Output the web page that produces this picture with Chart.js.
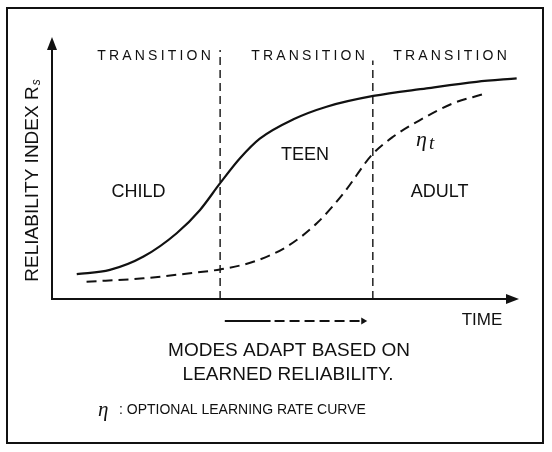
<!DOCTYPE html>
<html lang="en">
<head>
  <meta charset="UTF-8">
  <title>Reliability Index Modes</title>
  <script src="https://cdn.jsdelivr.net/npm/chart.js"></script>
  <style>
    body {
      margin: 0;
      background: #fff;
    }
    #canvas {
      display: block;
    }
  </style>
</head>
<body>
  <canvas id="canvas" width="552" height="452"></canvas>

  <script>
    // time runs 0..100 along x, reliability 0..100 up y
    const reliabilityTime = [5.3, 12.4, 19.6, 26.7, 31.7, 36.0, 40.3, 44.5, 51.7, 58.8, 68.8, 80.2, 90.9, 99.5];
    const reliabilityIndex = [9.5, 11.1, 16.2, 25.1, 34.0, 44.2, 53.8, 61.2, 68.6, 73.4, 77.5, 80.4, 82.9, 84.2];

    const learningTime = [7.4, 19.6, 30.3, 36.0, 43.1, 50.3, 56.7, 62.4, 68.5, 73.1, 78.8, 85.9, 92.4];
    const learningRate = [6.6, 7.9, 10.0, 11.3, 14.2, 20.0, 28.9, 40.3, 55.0, 62.0, 68.3, 74.7, 78.2];

    const transitionAt = [36.0, 68.7];
    const transitionTop = [95, 91];

    const stageNames = ["CHILD", "TEEN", "ADULT"];
    const transitionLabel = "TRANSITION";

    const pts = (xs, ys) => xs.map((x, i) => ({ x: x, y: ys[i] }));

    const ink = "#111";

    const datasets = [
      {
        label: "Reliability index",
        data: pts(reliabilityTime, reliabilityIndex),
        borderColor: ink,
        borderWidth: 2.2,
        pointRadius: 0,
        cubicInterpolationMode: "monotone"
      },
      {
        label: "Learning rate",
        data: pts(learningTime, learningRate),
        borderColor: ink,
        borderWidth: 2,
        borderDash: [10, 6],
        pointRadius: 0,
        cubicInterpolationMode: "monotone"
      }
    ];
    transitionAt.forEach((t, i) => {
      datasets.push({
        label: "Transition " + (i + 1),
        data: [{ x: t, y: 0 }, { x: t, y: transitionTop[i] }],
        borderColor: ink,
        borderWidth: 1.4,
        borderDash: [8, 5],
        pointRadius: 0
      });
    });

    function spacedText(ctx, text, cx, cy, gap) {
      let total = 0;
      const widths = [...text].map(c => ctx.measureText(c).width);
      widths.forEach(w => total += w);
      total += gap * (widths.length - 1);
      let x = cx - total / 2;
      ctx.textAlign = "left";
      [...text].forEach((c, i) => {
        ctx.fillText(c, x, cy);
        x += widths[i] + gap;
      });
    }

    const decor = {
      id: "decor",
      beforeDraw(chart) {
        const ctx = chart.ctx;
        ctx.save();
        ctx.fillStyle = "#fff";
        ctx.fillRect(0, 0, chart.width, chart.height);
        ctx.restore();
      },
      afterDraw(chart) {
        const ctx = chart.ctx;
        const a = chart.chartArea;
        const xs = chart.scales.x;
        const ys = chart.scales.y;
        ctx.save();
        ctx.strokeStyle = ink;
        ctx.fillStyle = ink;

        // outer frame
        ctx.lineWidth = 2;
        ctx.strokeRect(7, 8, 536, 435);

        // axes with arrows
        ctx.lineWidth = 2;
        ctx.beginPath();
        ctx.moveTo(a.left, a.top + 10);
        ctx.lineTo(a.left, a.bottom);
        ctx.lineTo(a.right - 10, a.bottom);
        ctx.stroke();
        ctx.beginPath();
        ctx.moveTo(a.left, a.top);
        ctx.lineTo(a.left - 5, a.top + 13);
        ctx.lineTo(a.left + 5, a.top + 13);
        ctx.closePath();
        ctx.fill();
        ctx.beginPath();
        ctx.moveTo(a.right, a.bottom);
        ctx.lineTo(a.right - 13, a.bottom - 5);
        ctx.lineTo(a.right - 13, a.bottom + 5);
        ctx.closePath();
        ctx.fill();

        ctx.textBaseline = "middle";

        // transition headers
        ctx.font = "14px 'Liberation Sans', Arial, sans-serif";
        [154, 308, 450].forEach(cx => spacedText(ctx, transitionLabel, cx, 56, 3.2));

        // stage names
        ctx.font = "18px 'Liberation Sans', Arial, sans-serif";
        ctx.textAlign = "center";
        ctx.fillText(stageNames[0], xs.getPixelForValue(18.5), ys.getPixelForValue(41));
        ctx.fillText(stageNames[1], xs.getPixelForValue(54.2), ys.getPixelForValue(55));
        ctx.fillText(stageNames[2], xs.getPixelForValue(83), ys.getPixelForValue(41));

        // eta_t label
        ctx.textAlign = "left";
        ctx.font = "italic 22px 'Liberation Serif', 'DejaVu Serif', serif";
        ctx.fillText("η", 416, 140);
        ctx.font = "italic 19px 'Liberation Serif', 'DejaVu Serif', serif";
        ctx.fillText("t", 429, 144);

        // y axis title
        ctx.save();
        ctx.translate(33, 181);
        ctx.rotate(-Math.PI / 2);
        ctx.font = "19px 'Liberation Sans', Arial, sans-serif";
        const main = "RELIABILITY INDEX R";
        const mw = ctx.measureText(main).width;
        ctx.font = "italic 12px 'Liberation Sans', Arial, sans-serif";
        const sw = ctx.measureText("s").width;
        const start = -(mw + sw) / 2;
        ctx.font = "19px 'Liberation Sans', Arial, sans-serif";
        ctx.fillText(main, start, 0);
        ctx.font = "italic 12px 'Liberation Sans', Arial, sans-serif";
        ctx.fillText("s", start + mw + 1, 4);
        ctx.restore();

        // x axis title
        ctx.font = "17px 'Liberation Sans', Arial, sans-serif";
        ctx.textAlign = "center";
        ctx.fillText("TIME", 482, 320);

        // adapt arrow under axis
        const ay = 321;
        const ax0 = xs.getPixelForValue(37.0);
        const ax1 = xs.getPixelForValue(46.8);
        const ax2 = xs.getPixelForValue(67.5);
        ctx.lineWidth = 2;
        ctx.beginPath();
        ctx.moveTo(ax0, ay);
        ctx.lineTo(ax1, ay);
        ctx.stroke();
        ctx.setLineDash([10, 5]);
        ctx.beginPath();
        ctx.moveTo(ax1 + 4, ay);
        ctx.lineTo(ax2 - 5, ay);
        ctx.stroke();
        ctx.setLineDash([]);
        ctx.beginPath();
        ctx.moveTo(ax2, ay);
        ctx.lineTo(ax2 - 6, ay - 3.5);
        ctx.lineTo(ax2 - 6, ay + 3.5);
        ctx.closePath();
        ctx.fill();

        // caption
        ctx.font = "19px 'Liberation Sans', Arial, sans-serif";
        ctx.fillText("MODES ADAPT BASED ON", 289, 351);
        ctx.fillText("LEARNED RELIABILITY.", 288, 375);

        // footnote
        ctx.textAlign = "left";
        ctx.font = "italic 21px 'Liberation Serif', 'DejaVu Serif', serif";
        ctx.fillText("η", 98, 410);
        ctx.font = "14px 'Liberation Sans', Arial, sans-serif";
        ctx.fillText(": OPTIONAL LEARNING RATE CURVE", 119, 410);

        ctx.restore();
      }
    };

    window.onload = function () {
      const ctx = document.getElementById("canvas").getContext("2d");
      new Chart(ctx, {
        type: "line",
        data: { datasets: datasets },
        options: {
          responsive: false,
          animation: false,
          devicePixelRatio: 1,
          layout: { padding: { left: 52, right: 33, top: 37, bottom: 153 } },
          plugins: {
            legend: { display: false },
            tooltip: { enabled: false }
          },
          scales: {
            x: { type: "linear", min: 0, max: 100, display: false },
            y: { type: "linear", min: 0, max: 100, display: false }
          }
        },
        plugins: [decor]
      });
    };
  </script>
</body>
</html>
